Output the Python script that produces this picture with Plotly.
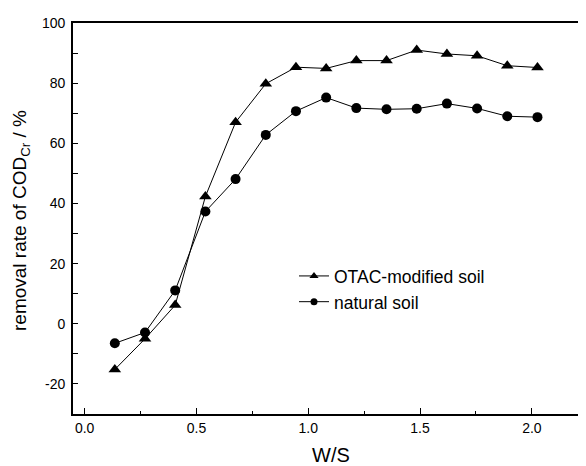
import plotly.graph_objects as go

ws = [0.135, 0.27, 0.405, 0.54, 0.675, 0.81, 0.945, 1.08, 1.215, 1.35, 1.485, 1.62, 1.755, 1.89, 2.025]
otac = [-15.2, -5.0, 6.2, 42.3, 67.0, 79.8, 85.3, 84.9, 87.5, 87.5, 91.0, 89.7, 89.1, 85.8, 85.2]
natural = [-6.5, -2.9, 11.1, 37.3, 48.1, 62.8, 70.7, 75.2, 71.7, 71.3, 71.5, 73.2, 71.6, 69.0, 68.7]
names = ["OTAC-modified soil", "natural soil"]
x_ticks = [0.0, 0.5, 1.0, 1.5, 2.0]
x_labels = ["0.0", "0.5", "1.0", "1.5", "2.0"]
y_ticks = [-20, 0, 20, 40, 60, 80, 100]
y_labels = ["-20", "0", "20", "40", "60", "80", "100"]

FONT = "Liberation Sans, Arial, sans-serif"

# page has an 8px body margin; figure coords = screen coords - 8
W, H = 578, 458
L, T = 65, 15.3
PB = 405.7          # plot bottom in figure coords
PW = W - L
PH = PB - T

fig = go.Figure()
fig.add_trace(go.Scatter(x=ws, y=otac, mode="lines+markers", showlegend=False,
                         line=dict(color="black", width=1),
                         marker=dict(symbol="triangle-up", size=11, color="black")))
fig.add_trace(go.Scatter(x=ws, y=natural, mode="lines+markers", showlegend=False,
                         line=dict(color="black", width=1),
                         marker=dict(symbol="circle", size=10, color="black")))
# legend entries with smaller markers
fig.add_trace(go.Scatter(x=[None], y=[None], mode="lines+markers", name=names[0],
                         line=dict(color="black", width=1),
                         marker=dict(symbol="triangle-up", size=8, color="black")))
fig.add_trace(go.Scatter(x=[None], y=[None], mode="lines+markers", name=names[1],
                         line=dict(color="black", width=1),
                         marker=dict(symbol="circle", size=7, color="black")))

fig.update_layout(
    width=W, height=H,
    margin=dict(l=L, r=0, t=T, b=H - PB, pad=0),
    paper_bgcolor="white", plot_bgcolor="white",
    font=dict(family=FONT, color="black", size=14),
    legend=dict(x=(286 - L) / PW, y=(PB - 250) / PH, xanchor="left", yanchor="top",
                bgcolor="rgba(0,0,0,0)", font=dict(size=17.5, family=FONT),
                tracegroupgap=0),
    xaxis=dict(range=[-0.052, 2.242], showgrid=False, zeroline=False,
               showline=True, linecolor="black", linewidth=1.7, mirror=True,
               ticks="inside", ticklen=6, tickwidth=1, tickcolor="black",
               tickvals=x_ticks, ticktext=x_labels,
               minor=dict(ticks="inside", ticklen=3, tickwidth=1, tickcolor="black", dtick=0.25),
               tickfont=dict(size=14)),
    yaxis=dict(range=[-30, 100], showgrid=False, zeroline=False,
               showline=True, linecolor="black", linewidth=1.7,
               ticks="inside", ticklen=5, tickwidth=1, tickcolor="black",
               tickvals=y_ticks, ticktext=y_labels,
               ticklabelstandoff=3,
               minor=dict(ticks="inside", ticklen=5, tickwidth=1, tickcolor="black", dtick=10),
               tickfont=dict(size=14)),
    annotations=[
        dict(text="W/S", xref="paper", yref="paper", x=(331 - 8 - L) / PW, y=0,
             xanchor="center", yanchor="middle", yshift=-41, showarrow=False,
             font=dict(size=20, family=FONT)),
        dict(text="removal rate of COD<sub>Cr</sub> / %", xref="paper", yref="paper",
             x=0, y=(PB - (221 - 8)) / PH, xshift=-(L - 13), xanchor="center", yanchor="middle",
             textangle=-90, showarrow=False, font=dict(size=19, family=FONT)),
    ],
)

fig.write_html("out.html")
